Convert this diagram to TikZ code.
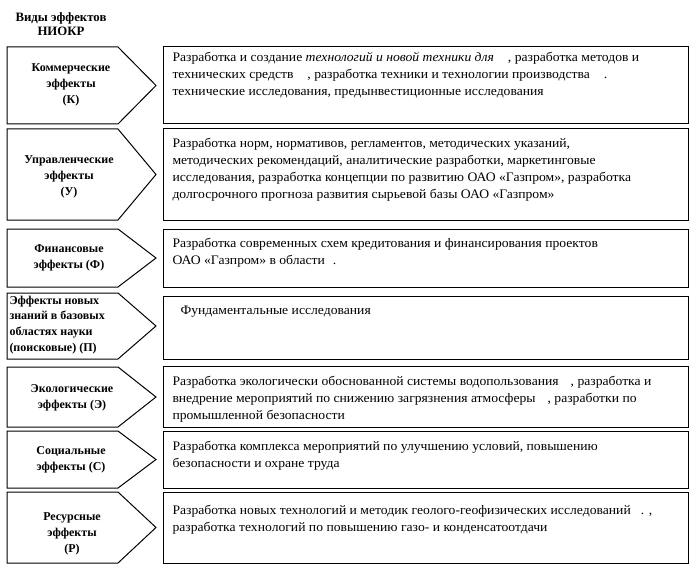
\documentclass[tikz,border=0pt]{standalone}
\usepackage{fontspec}
\setmainfont{Liberation Serif}
\newfontfamily\corpo[FakeStretch=1.05]{Liberation Serif}
\begin{document}
\begin{tikzpicture}[x=1pt, y=-1pt, line width=1pt, line join=miter,
    rotulo/.style={font=\fontsize{12}{15.8}\selectfont\bfseries, align=center, inner sep=0pt},
    texto/.style={font=\corpo\fontsize{13}{17}\selectfont, align=left, anchor=north west, inner sep=0pt}]
\useasboundingbox (0,0) rectangle (698,572);
% Título
\node[rotulo, font=\fontsize{12.8}{14}\selectfont\bfseries] (titulo) at (61,24) {Виды эффектов\\НИОКР};
% Коммерческие эффекты
\draw (7,47) -- (118,47) -- (156,85.5) -- (118,124) -- (7,124) -- cycle;
\node[rotulo] (kom) at (71,85) {Коммерческие\\эффекты\\(К)};
\draw (163,47) rectangle (688,124);
\node[texto] (tkom) at (172,51.5) {Разработка и создание \textit{технологий и новой техники для}\hspace{14pt}, разработка методов и\\
технических средств\hspace{14pt}, разработка техники и технологии производства\hspace{14pt}.\\
технические исследования, предынвестиционные исследования};
% Управленческие эффекты
\draw (7,129) -- (118,129) -- (156,174.5) -- (118,220) -- (7,220) -- cycle;
\node[rotulo] (upr) at (69,177) {Управленческие\\эффекты\\(У)};
\draw (163,129) rectangle (688,220);
\node[texto] (tupr) at (172,137.5) {Разработка норм, нормативов, регламентов, методических указаний,\\
методических рекомендаций, аналитические разработки, маркетинговые\\
исследования, разработка концепции по развитию ОАО «Газпром», разработка\\
долгосрочного прогноза развития сырьевой базы ОАО «Газпром»};
% Финансовые эффекты
\draw (7,229) -- (118,229) -- (156,258) -- (118,287) -- (7,287) -- cycle;
\node[rotulo] (fin) at (69,258) {Финансовые\\эффекты (Ф)};
\draw (163,229) rectangle (688,287);
\node[texto] (tfin) at (172,237.5) {Разработка современных схем кредитования и финансирования проектов\\
ОАО «Газпром» в области\hspace{8pt}.};
% Эффекты новых знаний (поисковые)
\draw (7,293) -- (118,293) -- (156,326) -- (118,359) -- (7,359) -- cycle;
\node[rotulo, align=left, anchor=west] (poi) at (9,325) {Эффекты новых\\знаний в базовых\\областях науки\\(поисковые) (П)};
\draw (163,296) rectangle (688,359);
\node[texto] (tpoi) at (180,305.5) {Фундаментальные исследования};
% Экологические эффекты
\draw (7,367) -- (118,367) -- (156,397) -- (118,427) -- (7,427) -- cycle;
\node[rotulo] (eko) at (72,398) {Экологические\\эффекты (Э)};
\draw (163,366) rectangle (688,427);
\node[texto] (teko) at (172,375.5) {Разработка экологически обоснованной системы водопользования\hspace{12pt}, разработка и\\
внедрение мероприятий по снижению загрязнения атмосферы\hspace{12pt}, разработки по\\
промышленной безопасности};
% Социальные эффекты
\draw (7,431) -- (118,431) -- (156,459.5) -- (118,488) -- (7,488) -- cycle;
\node[rotulo] (soc) at (71,460) {Социальные\\эффекты (С)};
\draw (163,431) rectangle (688,488);
\node[texto] (tsoc) at (172,440.5) {Разработка комплекса мероприятий по улучшению условий, повышению\\
безопасности и охране труда};
% Ресурсные эффекты
\draw (7,492) -- (118,492) -- (156,527.5) -- (118,563) -- (7,563) -- cycle;
\node[rotulo] (res) at (72,534) {Ресурсные\\эффекты\\(Р)};
\draw (163,492) rectangle (688,563);
\node[texto] (tres) at (172,504.5) {Разработка новых технологий и методик геолого-геофизических исследований\hspace{10pt}. ,\\
разработка технологий по повышению газо- и конденсатоотдачи};
\end{tikzpicture}
\end{document}
